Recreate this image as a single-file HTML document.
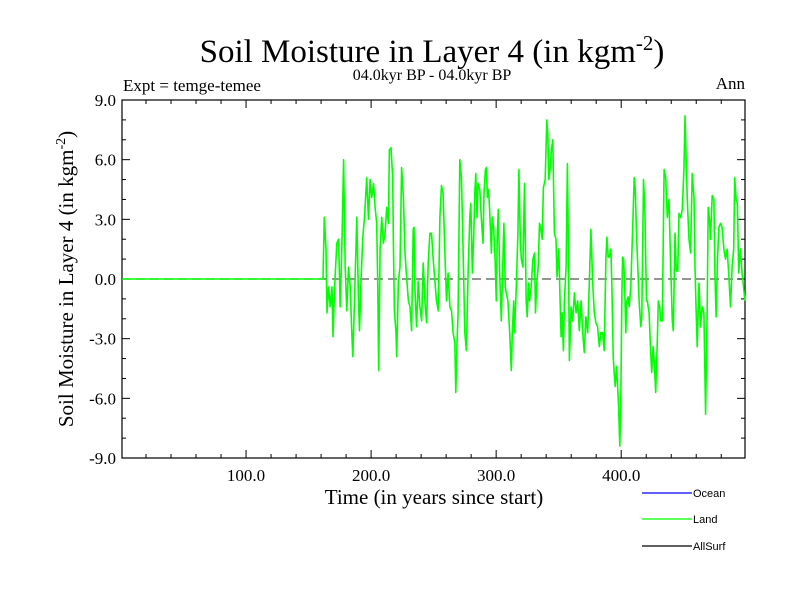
<!DOCTYPE html>
<html><head><meta charset="utf-8"><style>
body{margin:0;background:#fff;}
svg{display:block;font-family:"Liberation Serif",serif;}
</style></head><body>
<svg id="chart" width="800" height="600" viewBox="0 0 800 600" xmlns="http://www.w3.org/2000/svg">
<rect width="800" height="600" fill="#fff"/>
<text x="432" y="62" font-size="33" text-anchor="middle">Soil Moisture in Layer 4 (in kgm<tspan dy="-12" font-size="21">-2</tspan><tspan dy="12">)</tspan></text>
<text x="432" y="80" font-size="16" text-anchor="middle">04.0kyr BP - 04.0kyr BP</text>
<text x="123" y="91" font-size="17">Expt = temge-temee</text>
<text x="745" y="89" font-size="17" text-anchor="end">Ann</text>
<text x="434" y="504" font-size="21" text-anchor="middle">Time (in years since start)</text>
<text transform="translate(73,279) rotate(-90)" font-size="21" text-anchor="middle">Soil Moisture in Layer 4 (in kgm<tspan dy="-8" font-size="14">-2</tspan><tspan dy="8">)</tspan></text>
<g id="axes"></g>
<g id="marks"></g>
<g font-family="Liberation Sans, sans-serif" font-size="11">
<line x1="642" y1="493" x2="692" y2="493" stroke="#0000ff" stroke-width="1.2"/>
<text x="693" y="497">Ocean</text>
<line x1="642" y1="519" x2="692" y2="519" stroke="#00ff00" stroke-width="1.2"/>
<text x="693" y="523">Land</text>
<line x1="642" y1="546" x2="692" y2="546" stroke="#000" stroke-width="1.2"/>
<text x="693" y="550">AllSurf</text>
</g>
</svg>
<script>
const years=[0.8,161,161.5,162.6,163.9,164.7,166.0,167.3,168.7,169.5,170.8,172.6,174.0,175.3,176.6,178.0,179.3,180.6,181.9,183.3,184.6,185.4,186.7,188.6,189.9,190.7,191.8,193.4,194.7,196.5,197.9,199.2,200.5,201.9,203.2,204.5,205.3,206.1,207.2,208.5,209.8,211.2,212.5,213.8,214.6,215.9,217.3,217.8,218.6,219.9,220.5,221.8,223.1,224.4,225.8,227.1,228.4,229.8,231.1,232.4,233.7,234.3,235.1,236.4,237.7,239.0,240.4,241.7,243.0,244.4,245.7,247.0,248.3,249.7,251.0,252.3,253.7,255.0,256.3,257.6,259.0,260.3,261.6,263.0,264.3,265.6,266.9,267.7,268.8,269.6,270.9,272.2,273.0,274.1,274.9,276.2,277.6,278.9,279.7,281.0,282.1,282.9,283.7,284.7,285.5,286.9,288.2,289.5,290.3,291.4,292.2,293.0,294.0,294.8,296.2,296.9,298.0,299.1,300.1,300.9,301.7,302.8,304.1,305.4,306.2,307.3,308.1,309.4,310.8,312.1,312.9,314.0,314.7,316.1,317.4,318.2,319.3,320.1,321.4,322.7,324.0,324.8,325.9,326.7,328.0,329.4,330.7,331.5,332.5,333.6,334.7,335.5,336.8,337.8,339.2,340.5,341.3,342.1,343.2,344.2,345.3,346.6,347.9,348.7,350.1,351.1,351.9,352.7,353.8,354.6,355.9,357.0,357.8,358.6,359.9,361.2,362.6,363.9,365.2,366.5,367.9,369.2,370.5,371.8,373.2,374.5,375.8,377.2,378.5,379.8,381.1,382.5,383.8,385.1,386.4,387.8,388.6,389.6,390.4,391.8,392.6,393.6,394.4,395.2,396.3,397.1,397.9,398.9,399.7,400.5,401.1,401.9,402.7,403.7,404.5,405.6,406.4,407.7,409.0,410.4,411.2,412.2,413.0,414.3,415.7,416.5,417.8,418.9,420.2,420.9,422.3,423.6,424.4,425.5,426.5,427.6,428.9,429.7,430.8,431.6,432.9,434.3,435.6,436.9,438.2,439.6,440.9,441.7,443.0,444.1,445.2,446.2,447.6,448.9,450.2,451.0,452.1,453.1,454.2,455.5,456.8,458.2,459.0,460.0,460.8,462.2,463.5,464.8,466.1,467.5,468.8,469.6,470.6,471.4,472.8,474.1,474.9,475.9,477.0,478.1,479.4,480.7,482.1,483.4,484.7,486.0,487.4,488.7,490.0,490.8,491.9,492.9,494.0,495.3,496.7,499.0];
const landValues=[0,0,0,3.1,1.5,-1.7,-0.4,-1.4,-0.4,-2.9,-0.4,1.8,2.0,-1.4,1.5,6.0,0.6,-1.6,0.6,-0.4,-2.7,-3.9,-1.1,3.1,-1.1,-2.6,-0.4,2.1,3.1,5.1,3.0,5.0,4.1,4.8,3.6,2.8,-0.1,-4.6,1.5,3.1,1.8,2.3,3.6,2.8,6.5,6.6,5.1,1.8,-1.6,-2.7,-3.9,-0.1,0.6,5.6,4.1,1.3,0.1,-1.1,-1.4,-2.6,2.5,2.6,-0.6,-2.4,-0.1,-1.4,-2.1,0.8,-1.1,-2.2,0.8,2.3,2.3,1.0,-0.1,-1.1,-1.6,3.1,4.7,4.3,1.3,-1.1,0.3,-1.4,-1.6,-2.7,-3.2,-5.7,-3.1,-1.7,6.0,5.1,3.1,-0.2,-2.7,-3.6,0.3,3.1,3.8,0.3,2.3,4.3,5.3,3.1,4.8,4.5,3.0,1.8,4.3,5.5,5.6,4.1,4.5,3.5,1.3,3.1,2.6,1.1,-1.1,2.3,3.5,0.3,-2.1,1.0,2.8,-0.4,-0.7,-1.1,-2.7,-4.6,-2.7,-1.1,-2.7,-0.4,2.3,5.5,2.0,1.0,0.6,4.8,-1.1,-1.9,-0.2,-1.1,-0.4,1.0,1.3,-1.7,-0.2,0.6,2.8,2.6,2.0,4.6,5.0,8.0,7.3,5.0,5.6,6.5,7.0,2.3,2.0,0.1,1.5,-1.1,-2.9,-1.7,-3.6,-1.1,0.6,5.8,1.5,-4.1,-1.4,-2.1,-0.7,-1.7,-1.1,-2.6,-1.1,-2.7,-3.7,-1.9,-2.7,-0.2,2.5,-0.2,-1.7,-2.2,-2.4,-3.4,-2.7,-2.7,-3.6,1.0,2.1,1.1,1.1,1.5,-0.4,-3.9,-4.7,-5.4,-4.4,-5.4,-6.4,-8.4,-6.1,-1.1,1.1,1.0,-0.2,-2.7,-1.1,-0.9,-1.4,-0.4,2.3,5.1,4.6,2.3,1.0,-1.1,-2.4,-1.9,5.0,3.6,-1.1,-1.1,-1.7,-3.7,-4.7,-3.4,-4.2,-5.7,-3.1,-1.1,-1.4,-2.1,-2.1,5.5,5.1,3.1,4.0,0.6,-2.1,-2.6,2.3,0.4,0.4,3.3,3.1,3.5,5.6,8.2,5.5,3.6,2.0,1.3,5.3,4.1,0.6,-1.7,-3.4,-0.2,-2.4,-1.4,-1.7,-6.8,-1.4,3.6,3.0,2.0,4.2,4.0,0.3,-1.9,1.0,2.6,2.8,2.6,1.5,1.0,1.5,0.3,-1.4,0.6,1.5,5.1,4.0,3.8,0.3,1.5,0.3,-1.1];
const xTickValues=[100,200,300,400];
const xTickLabels=["100.0","200.0","300.0","400.0"];
const yTickValues=[-9,-6,-3,0,3,6,9];
const yTickLabels=["-9.0","-6.0","-3.0","0.0","3.0","6.0","9.0"];
const X0=122,X1=745,Y0=100,Y1=458,XMIN=0.8,XMAX=499,YMIN=-9,YMAX=9;
function xs(v){return X0+(v-XMIN)/(XMAX-XMIN)*(X1-X0);}
function ys(v){return Y1-(v-YMIN)/(YMAX-YMIN)*(Y1-Y0);}
const NS="http://www.w3.org/2000/svg";
function mk(tag,attrs,parent){const e=document.createElementNS(NS,tag);for(const k in attrs)e.setAttribute(k,attrs[k]);parent.appendChild(e);return e;}
const axes=document.getElementById('axes'),marks=document.getElementById('marks');
let z=mk('line',{x1:X0,x2:X1,y1:ys(0),y2:ys(0),stroke:'#555','stroke-width':1.2,'stroke-dasharray':'9,5'},axes);


for(let v=20;v<XMAX;v+=20){const x=xs(v);const big=v%100===0;const L=big?8:4;
 let t=mk('line',{x1:x,x2:x,y1:Y1,y2:Y1-L,stroke:'#000','stroke-width':1},axes);
 
 
 let t2=mk('line',{x1:x,x2:x,y1:Y0,y2:Y0+L,stroke:'#000','stroke-width':1},axes);
 
 }
for(let v=-8;v<=8;v+=1){const y=ys(v);const big=v%3===0;const L=big?8:4;
 let t=mk('line',{x1:X0,x2:X0+L,y1:y,y2:y,stroke:'#000','stroke-width':1},axes);
 
 
 let t2=mk('line',{x1:X1,x2:X1-L,y1:y,y2:y,stroke:'#000','stroke-width':1},axes);
 
 }
xTickValues.forEach((v,i)=>{let t=mk('text',{x:xs(v),y:Y1+23,'font-size':17,'text-anchor':'middle'},axes);t.textContent=xTickLabels[i];
 
 });
yTickValues.forEach((v,i)=>{let t=mk('text',{x:X0-6,y:ys(v)+6,'font-size':17,'text-anchor':'end'},axes);t.textContent=yTickLabels[i];
 
 });
let frame=mk('rect',{x:X0,y:Y0,width:X1-X0,height:Y1-Y0,fill:'none',stroke:'#000','stroke-width':1.2},axes);


let d=years.map((yr,i)=>(i?'L':'M')+xs(yr).toFixed(1)+','+ys(landValues[i]).toFixed(1)).join('');
let p=mk('path',{d:d,fill:'none',stroke:'#00ff00','stroke-width':1.6,'stroke-linejoin':'round'},marks);


</script>
</body></html>
